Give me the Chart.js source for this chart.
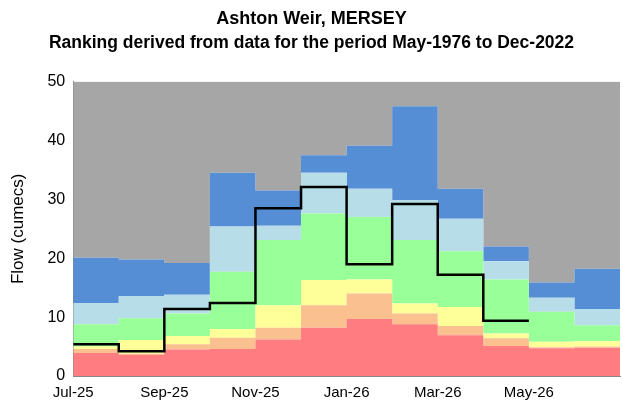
<!DOCTYPE html>
<html>
<head>
<meta charset="utf-8">
<script src="https://cdn.jsdelivr.net/npm/chart.js@4"></script>
<style>
  html, body { margin: 0; padding: 0; background: #fff; }
  #wrap { width: 623px; height: 405px; }
</style>
</head>
<body>
<div id="wrap"><canvas id="chart"></canvas></div>
<script>
// Month tick labels (every second month)
const tickLabels = ["Jul-25", "Sep-25", "Nov-25", "Jan-26", "Mar-26", "May-26"];

// Cumulative band tops per month, Jul-25 .. Jun-26
const redTop    = [3.9, 3.6, 4.5, 4.6, 6.2, 8.2, 9.7, 8.8, 6.9, 5.1, 4.7, 4.8];
const orangeTop = [4.6, 3.8, 5.4, 6.5, 8.2, 12.0, 14.0, 10.6, 8.5, 6.4, 4.9, 5.0];
const yellowTop = [5.0, 6.1, 6.8, 8.0, 12.0, 16.3, 16.4, 12.3, 11.7, 7.2, 5.8, 5.9];
const greenTop  = [8.8, 9.8, 10.6, 17.7, 23.1, 27.6, 27.0, 23.1, 21.2, 16.4, 10.9, 8.6];
const lblueTop  = [12.4, 13.6, 13.8, 25.4, 25.5, 34.5, 31.8, 29.9, 26.7, 19.5, 13.3, 11.4];
const blueTop   = [20.1, 19.8, 19.2, 34.5, 31.5, 37.5, 39.1, 45.8, 31.8, 22.0, 15.9, 18.2];
const greyTop   = [50, 50, 50, 50, 50, 50, 50, 50, 50, 50, 50, 50];

// Observed flow, Jul-25 .. Apr-26
const observed  = [5.4, 4.2, 11.4, 12.4, 28.5, 32.1, 19.0, 29.2, 17.2, 9.4];

// step points: each month value at x = i, repeated at end of the series
function steps(arr) {
    const pts = arr.map((v, i) => ({ x: i, y: v }));
    pts.push({ x: arr.length, y: arr[arr.length - 1] });
    return pts;
}

function band(data, color, fill) {
    return {
        data: steps(data),
        backgroundColor: color,
        borderWidth: 0,
        pointRadius: 0,
        stepped: "before",
        fill: fill
    };
}

const ctx = document.getElementById("chart").getContext("2d");
new Chart(ctx, {
    type: "line",
    data: {
        datasets: [
            {
                data: steps(observed),
                borderColor: "#000",
                borderWidth: 2.5,
                pointRadius: 0,
                stepped: "before",
                fill: false
            },
            band(redTop, "#ff7c80", "origin"),
            band(orangeTop, "#fac090", "-1"),
            band(yellowTop, "#ffff99", "-1"),
            band(greenTop, "#99ff99", "-1"),
            band(lblueTop, "#b7dde8", "-1"),
            band(blueTop, "#558ed5", "-1"),
            band(greyTop, "#a6a6a6", "-1")
        ]
    },
    options: {
        responsive: true,
        maintainAspectRatio: false,
        animation: false,
        layout: { padding: { top: 0, right: 0, left: 0, bottom: 0 } },
        plugins: {
            legend: { display: false },
            tooltip: { enabled: false },
            title: {
                display: true,
                text: "Ashton Weir, MERSEY",
                color: "#000",
                font: { family: "Liberation Sans, Arial", size: 18, weight: "bold" },
                padding: { top: 8, bottom: 3 }
            },
            subtitle: {
                display: true,
                text: "Ranking derived from data for the period May-1976 to Dec-2022",
                color: "#000",
                font: { family: "Liberation Sans, Arial", size: 17.5, weight: "bold" },
                padding: { bottom: 28 }
            }
        },
        scales: {
            x: {
                type: "linear",
                min: 0,
                max: 12,
                grid: { display: false, drawTicks: true, tickLength: 5, color: "#888" },
                border: { color: "#888" },
                ticks: {
                    stepSize: 2,
                    color: "#000",
                    font: { family: "Liberation Sans, Arial", size: 15 },
                    callback: v => tickLabels[v / 2] || ""
                }
            },
            y: {
                min: 0,
                max: 50,
                grid: { display: false, tickLength: 5 },
                border: { color: "#888" },
                ticks: {
                    stepSize: 10,
                    color: "#000",
                    font: { family: "Liberation Sans, Arial", size: 16 }
                },
                title: {
                    display: true,
                    text: "Flow (cumecs)",
                    color: "#000",
                    padding: { top: 8, bottom: 16 },
                    font: { family: "Liberation Sans, Arial", size: 17 }
                }
            }
        }
    }
});
</script>
</body>
</html>
